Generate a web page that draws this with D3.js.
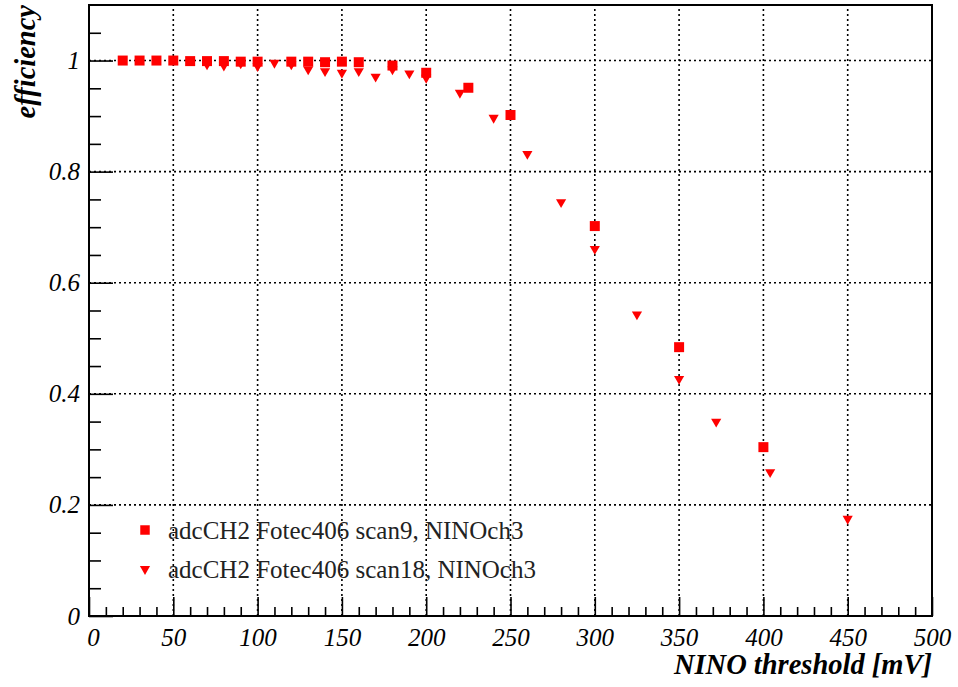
<!DOCTYPE html>
<html>
<head>
<meta charset="utf-8">
<script src="https://cdn.jsdelivr.net/npm/d3@7"></script>
<style>
  body { margin: 0; background: #fff; }
  svg { display: block; }
</style>
</head>
<body>
<div id="chart"></div>
<script>
// scan9 (squares)
const scan9X = [20, 30, 40, 50, 60, 70, 80, 90, 100, 120, 130, 140, 150, 160, 180, 200, 225, 250, 300, 350, 400];
const scan9Y = [1.0, 1.0, 1.0, 1.0, 0.999, 0.999, 0.999, 0.998, 0.998, 0.998, 0.998, 0.997, 0.998, 0.997, 0.991, 0.978, 0.951, 0.902, 0.702, 0.484, 0.304];
// scan18 (triangles)
const scan18X = [70, 80, 90, 100, 110, 120, 130, 140, 150, 160, 170, 180, 190, 200, 220, 240, 260, 280, 300, 325, 350, 372, 404, 450];
const scan18Y = [0.993, 0.991, 0.995, 0.99, 0.996, 0.993, 0.984, 0.981, 0.978, 0.981, 0.971, 0.984, 0.977, 0.969, 0.942, 0.897, 0.832, 0.745, 0.661, 0.543, 0.427, 0.35, 0.259, 0.175];

const xTicks = [0, 50, 100, 150, 200, 250, 300, 350, 400, 450, 500];
const yTicks = [0, 0.2, 0.4, 0.6, 0.8, 1];
const legendLabels = ["adcCH2 Fotec406 scan9, NINOch3", "adcCH2 Fotec406 scan18, NINOch3"];

const font = '"Liberation Serif", "Times New Roman", Times, serif';
const width = 958, height = 687;
const plotLeft = 89, plotRight = 932, plotTop = 5, plotBottom = 616;

const svg = d3.select('#chart').append('svg')
    .attr('width', width)
    .attr('height', height)
    .attr('font-family', font);

const x = d3.scaleLinear().domain([0, 500]).range([plotLeft, plotRight]);
const y = d3.scaleLinear().domain([0, 1.1]).range([plotBottom, plotTop]);

// grid
const grid = svg.append('g')
    .attr('stroke', '#000')
    .attr('stroke-width', 1.6)
    .attr('stroke-dasharray', '2,3');
grid.selectAll('.vg')
    .data(xTicks.filter(d => d > 0 && d < 500))
    .enter().append('line')
    .attr('x1', d => x(d)).attr('x2', d => x(d))
    .attr('y1', plotBottom).attr('y2', plotTop);
grid.selectAll('.hg')
    .data(yTicks.filter(d => d > 0))
    .enter().append('line')
    .attr('x1', plotLeft).attr('x2', plotRight)
    .attr('y1', d => y(d)).attr('y2', d => y(d));

// minor ticks
const xMinor = d3.range(0, 501, 10).filter(d => d % 50 !== 0);
const yMinor = d3.range(0, 1.1, 0.05).filter(d => Math.abs(d * 5 - Math.round(d * 5)) > 1e-6);

svg.append('g')
    .attr('transform', `translate(0,${plotBottom})`)
    .call(d3.axisTop(x).tickValues(xMinor).tickSize(9).tickFormat(''))
    .call(g => g.select('.domain').remove())
    .selectAll('line').attr('stroke-width', 1.6);

svg.append('g')
    .attr('transform', `translate(${plotLeft},0)`)
    .call(d3.axisRight(y).tickValues(yMinor).tickSize(12).tickFormat(''))
    .call(g => g.select('.domain').remove())
    .selectAll('line').attr('stroke-width', 1.6);

// major ticks + labels
const xAxis = svg.append('g')
    .attr('transform', `translate(0,${plotBottom})`)
    .call(d3.axisTop(x).tickValues(xTicks).tickSize(19).tickFormat(d3.format('d')))
    .call(g => g.select('.domain').remove())
    .attr('font-family', font);
xAxis.selectAll('line').attr('stroke-width', 1.6);
xAxis.selectAll('text')
    .attr('y', 30)
    .attr('dy', 0)
    .attr('font-size', 25)
    .attr('font-style', 'italic')
    .attr('fill', '#000')
    .attr('text-anchor', 'middle')
    .attr('transform', d => d === 0 ? 'translate(4,0)' : null);

const yAxis = svg.append('g')
    .attr('transform', `translate(${plotLeft},0)`)
    .call(d3.axisRight(y).tickValues(yTicks).tickSize(24).tickFormat(d => d === 0 ? '0' : d === 1 ? '1' : d3.format('.1f')(d)))
    .call(g => g.select('.domain').remove())
    .attr('font-family', font);
yAxis.selectAll('line').attr('stroke-width', 1.6);
yAxis.selectAll('text')
    .attr('x', -9)
    .attr('dy', '0.32em')
    .attr('font-size', 25)
    .attr('font-style', 'italic')
    .attr('fill', '#000')
    .attr('text-anchor', 'end');

// frame
svg.append('rect')
    .attr('x', plotLeft).attr('y', plotTop)
    .attr('width', plotRight - plotLeft).attr('height', plotBottom - plotTop)
    .attr('fill', 'none')
    .attr('stroke', '#000')
    .attr('stroke-width', 2);

// data
const squares = scan9X.map((d, i) => ({x: d, y: scan9Y[i]}));
const triangles = scan18X.map((d, i) => ({x: d, y: scan18Y[i]}));

const sq = d3.symbol().type(d3.symbolSquare).size(100);
const tri = d3.symbol().type(d3.symbolTriangle).size(45);

svg.append('g').selectAll('path')
    .data(squares)
    .enter().append('path')
    .attr('d', sq)
    .attr('fill', '#ff0000')
    .attr('transform', d => `translate(${x(d.x)},${y(d.y)})`);

svg.append('g').selectAll('path')
    .data(triangles)
    .enter().append('path')
    .attr('d', tri)
    .attr('fill', '#ff0000')
    .attr('transform', d => `translate(${x(d.x)},${y(d.y)}) rotate(180)`);

// legend
const legend = svg.append('g');
const legendY = [530, 569];
legend.append('path')
    .attr('d', d3.symbol().type(d3.symbolSquare).size(90))
    .attr('fill', '#ff0000')
    .attr('transform', `translate(145,${legendY[0]})`);
legend.append('path')
    .attr('d', d3.symbol().type(d3.symbolTriangle).size(45))
    .attr('fill', '#ff0000')
    .attr('transform', `translate(145,${legendY[1]}) rotate(180)`);
legend.selectAll('text')
    .data(legendLabels)
    .enter().append('text')
    .attr('x', 168)
    .attr('y', (d, i) => legendY[i])
    .attr('dy', '0.35em')
    .attr('font-size', 25)
    .attr('fill', '#222')
    .text(d => d);

// axis titles
svg.append('text')
    .attr('x', plotRight)
    .attr('y', 674)
    .attr('text-anchor', 'end')
    .attr('font-size', 28.5)
    .attr('font-weight', 'bold')
    .attr('font-style', 'italic')
    .text('NINO threshold [mV]');

svg.append('text')
    .attr('transform', `translate(35,${plotTop}) rotate(-90)`)
    .attr('text-anchor', 'end')
    .attr('font-size', 28.5)
    .attr('font-weight', 'bold')
    .attr('font-style', 'italic')
    .text('efficiency');
</script>
</body>
</html>
